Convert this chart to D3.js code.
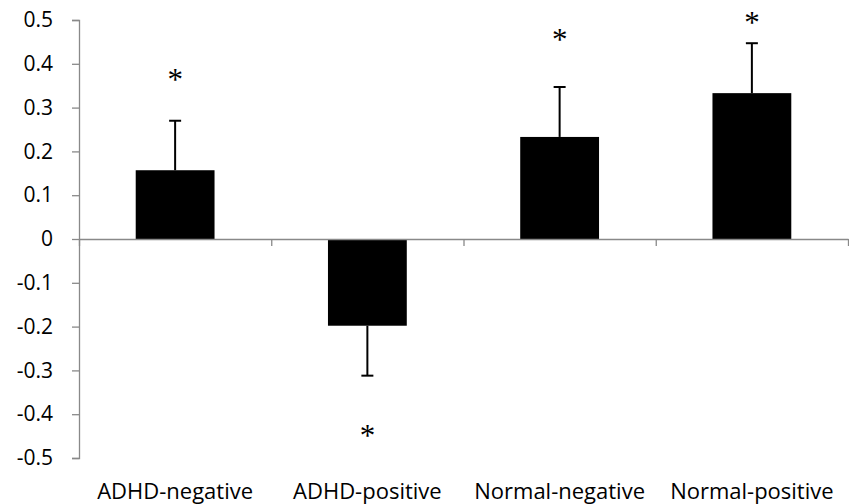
<!DOCTYPE html>
<html>
<head>
<meta charset="utf-8">
<script src="https://cdn.jsdelivr.net/npm/d3@7"></script>
<style>
  body { margin: 0; background: #fff; }
  text { font-family: "Open Sans", sans-serif; fill: #000; }
</style>
</head>
<body>
<div id="chart"></div>
<script>
// data
const categories = ['ADHD-negative', 'ADHD-positive', 'Normal-negative', 'Normal-positive'];
const means = [0.157, -0.198, 0.233, 0.333];
const errors = [0.113, 0.114, 0.114, 0.114];
const starAt = [0.374, -0.439, 0.465, 0.503];
const yTicks = [0.5, 0.4, 0.3, 0.2, 0.1, 0, -0.1, -0.2, -0.3, -0.4, -0.5];

const width = 849, height = 504;
const margin = { top: 20, right: 1, bottom: 46, left: 79 };
const axisColor = '#898989';

const svg = d3.select('#chart').append('svg')
    .attr('width', width)
    .attr('height', height);

// Y
const y = d3.scaleLinear()
    .domain([-0.5, 0.5])
    .range([height - margin.bottom, margin.top]);

// X (bars)
const x = d3.scaleBand()
    .domain(categories)
    .range([margin.left, width - margin.right])
    .paddingInner(0.59)
    .paddingOuter(0.295);

// X (boundaries for category ticks)
const xb = d3.scaleLinear()
    .domain([0, categories.length])
    .range([margin.left, width - margin.right]);

// Left axis, plain hyphen for negatives like the original
const yAxis = svg.append('g')
    .attr('transform', `translate(${margin.left},0)`)
    .call(d3.axisLeft(y)
        .tickValues(yTicks)
        .tickSize(7)
        .tickSizeOuter(7)
        .tickPadding(19)
        .tickFormat(d => d === 0 ? '0' : d.toFixed(1)));
yAxis.selectAll('path, line').attr('stroke', axisColor).attr('stroke-width', 1.3);
yAxis.selectAll('text')
    .style('font-size', '21px')
    .attr('fill', '#000');

// Bars
svg.selectAll('.bar')
    .data(means)
    .join('rect')
    .attr('class', 'bar')
    .attr('x', (d, i) => x(categories[i]))
    .attr('width', x.bandwidth())
    .attr('y', d => y(Math.max(0, d)))
    .attr('height', d => Math.abs(y(d) - y(0)))
    .attr('fill', '#000');

// Error bars (one-sided, away from zero)
const err = svg.selectAll('.err')
    .data(means)
    .join('g')
    .attr('class', 'err')
    .attr('stroke', '#000')
    .attr('stroke-width', 2);
const cx = i => x(categories[i]) + x.bandwidth() / 2;
const tip = (d, i) => d >= 0 ? d + errors[i] : d - errors[i];
err.append('line')
    .attr('x1', (d, i) => cx(i))
    .attr('x2', (d, i) => cx(i))
    .attr('y1', d => y(d))
    .attr('y2', (d, i) => y(tip(d, i)));
err.append('line')
    .attr('x1', (d, i) => cx(i) - 6)
    .attr('x2', (d, i) => cx(i) + 6)
    .attr('y1', (d, i) => y(tip(d, i)))
    .attr('y2', (d, i) => y(tip(d, i)));

// Zero axis with category boundary ticks
const xAxis = svg.append('g')
    .attr('transform', `translate(0,${y(0)})`)
    .call(d3.axisBottom(xb)
        .tickValues(d3.range(categories.length + 1))
        .tickSize(7)
        .tickSizeOuter(0)
        .tickFormat(''));
xAxis.selectAll('path, line').attr('stroke', axisColor).attr('stroke-width', 1.3);

// Category labels
svg.selectAll('.cat')
    .data(categories)
    .join('text')
    .attr('class', 'cat')
    .attr('x', d => x(d) + x.bandwidth() / 2)
    .attr('y', height - 5)
    .attr('text-anchor', 'middle')
    .style('font-size', '22px')
    .text(d => d);

// Significance stars
svg.selectAll('.star')
    .data(starAt)
    .join('text')
    .attr('class', 'star')
    .attr('x', (d, i) => cx(i))
    .attr('y', d => y(d))
    .attr('dy', '0.47em')
    .attr('text-anchor', 'middle')
    .style('font-family', '"Liberation Serif", serif')
    .style('font-size', '31px')
    .text('*');
</script>
</body>
</html>
